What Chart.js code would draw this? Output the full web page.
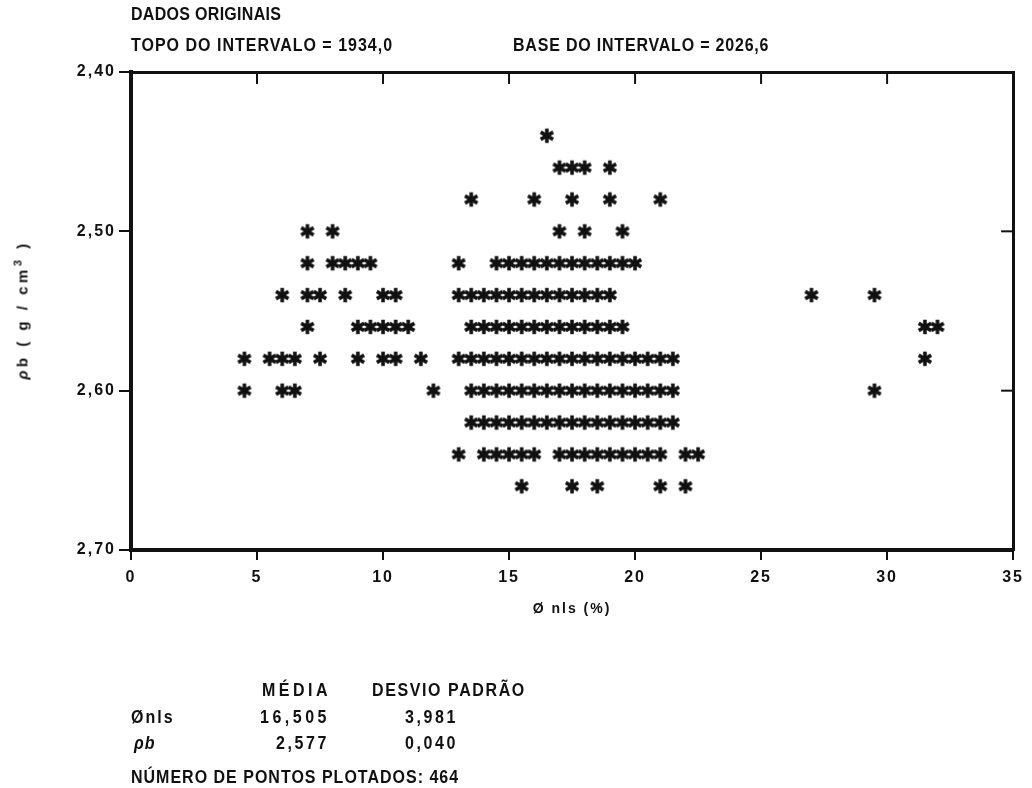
<!DOCTYPE html>
<html>
<head>
<meta charset="utf-8">
<script src="https://cdn.jsdelivr.net/npm/chart.js@4.4.1/dist/chart.umd.min.js"></script>
<style>
  html, body { margin: 0; padding: 0; background: #fff; }
  #wrap { position: relative; width: 1032px; height: 788px; }
  canvas { position: absolute; left: 0; top: 0; }
  .t { position: absolute; font-family: "Liberation Sans", Arial, sans-serif; font-weight: bold;
       font-size: 16px; line-height: 16px; color: #111; white-space: nowrap;
       transform: scaleY(1.15); transform-origin: 0 50%; }
  #ytitle { position: absolute; left: 22px; top: 310px; font-family: "Liberation Sans", Arial, sans-serif;
       font-weight: bold; font-size: 15px; letter-spacing: 3.5px; color: #111; white-space: nowrap;
       transform: translate(-50%, -50%) rotate(-90deg); }
  #ytitle sup { font-size: 11px; vertical-align: 6px; line-height: 0; }
</style>
</head>
<body>
<div id="wrap">
  <canvas id="chart" width="1032" height="788"></canvas>
  <div id="ytitle"><i>ρ</i>b ( g / cm<sup>3</sup> )</div>
  <div class="t" style="left:131px; top:6px; letter-spacing:0.3px;">DADOS ORIGINAIS</div>
  <div class="t" style="left:131px; top:37px; letter-spacing:1px;">TOPO DO INTERVALO = 1934,0</div>
  <div class="t" style="left:513px; top:37px; letter-spacing:0.8px;">BASE DO INTERVALO = 2026,6</div>

  <div class="t" style="left:262px; top:682px; letter-spacing:3.5px;">MÉDIA</div>
  <div class="t" style="left:372px; top:682px; letter-spacing:1.6px;">DESVIO PADRÃO</div>
  <div class="t" style="left:131px; top:709px; letter-spacing:2px;">Ønls</div>
  <div class="t" style="left:260px; top:709px; letter-spacing:3.5px;">16,505</div>
  <div class="t" style="left:405px; top:709px; letter-spacing:2.6px;">3,981</div>
  <div class="t" style="left:134px; top:735px; letter-spacing:1px; font-style:italic;">ρb</div>
  <div class="t" style="left:276px; top:735px; letter-spacing:2.6px;">2,577</div>
  <div class="t" style="left:405px; top:735px; letter-spacing:2.6px;">0,040</div>
  <div class="t" style="left:131px; top:769px; letter-spacing:1px;">NÚMERO DE PONTOS PLOTADOS: 464</div>
</div>
<script>
// densidade (rho b) de cada linha de asteriscos
const rhoRows = [2.44, 2.46, 2.48, 2.50, 2.52, 2.54, 2.56, 2.58, 2.60, 2.62, 2.64, 2.66];

// porosidade (phi nls, %) dos asteriscos em cada linha
const phiRows = [
    [16.5],
    [17, 17.5, 18, 19],
    [13.5, 16, 17.5, 19, 21],
    [7, 8, 17, 18, 19.5],
    [7, 8, 8.5, 9, 9.5, 13, 14.5, 15, 15.5, 16, 16.5, 17, 17.5, 18, 18.5, 19, 19.5, 20],
    [6, 7, 7.5, 8.5, 10, 10.5, 13, 13.5, 14, 14.5, 15, 15.5, 16, 16.5, 17, 17.5, 18, 18.5, 19, 27, 29.5],
    [7, 9, 9.5, 10, 10.5, 11, 13.5, 14, 14.5, 15, 15.5, 16, 16.5, 17, 17.5, 18, 18.5, 19, 19.5, 31.5, 32],
    [4.5, 5.5, 6, 6.5, 7.5, 9, 10, 10.5, 11.5, 13, 13.5, 14, 14.5, 15, 15.5, 16, 16.5, 17, 17.5, 18, 18.5, 19, 19.5, 20, 20.5, 21, 21.5, 31.5],
    [4.5, 6, 6.5, 12, 13.5, 14, 14.5, 15, 15.5, 16, 16.5, 17, 17.5, 18, 18.5, 19, 19.5, 20, 20.5, 21, 21.5, 29.5],
    [13.5, 14, 14.5, 15, 15.5, 16, 16.5, 17, 17.5, 18, 18.5, 19, 19.5, 20, 20.5, 21, 21.5],
    [13, 14, 14.5, 15, 15.5, 16, 17, 17.5, 18, 18.5, 19, 19.5, 20, 20.5, 21, 22, 22.5],
    [15.5, 17.5, 18.5, 21, 22]
];

const xTicks = [0, 5, 10, 15, 20, 25, 30, 35];
const yTicks = [2.40, 2.50, 2.60, 2.70];

const points = [];
rhoRows.forEach((rho, i) => {
    phiRows[i].forEach(phi => points.push({ x: phi, y: rho }));
});

// asterisco de 6 bracos, como o da plotadora
function makeStar() {
    const c = document.createElement('canvas');
    c.width = 18; c.height = 18;
    const g = c.getContext('2d');
    g.strokeStyle = '#111';
    g.lineWidth = 3.6;
    [90, 30, 150].forEach(a => {
        const r = a * Math.PI / 180;
        const dx = Math.cos(r) * 7.2, dy = Math.sin(r) * 7.2;
        g.beginPath();
        g.moveTo(9 - dx, 9 - dy);
        g.lineTo(9 + dx, 9 + dy);
        g.stroke();
    });
    return c;
}
const star = makeStar();

// letras espacadas como na plotadora
const spacing = {
    id: 'spacing',
    beforeLayout(chart) { chart.ctx.letterSpacing = '2px'; },
    beforeDraw(chart) { chart.ctx.letterSpacing = '2px'; }
};

// marcas internas nos eixos de cima e da direita
const innerTicks = {
    id: 'innerTicks',
    afterDraw(chart) {
        const { ctx, chartArea: a, scales } = chart;
        ctx.save();
        ctx.strokeStyle = '#111';
        ctx.lineWidth = 2;
        xTicks.slice(1, -1).forEach(v => {
            const px = scales.x.getPixelForValue(v);
            ctx.beginPath(); ctx.moveTo(px, a.top); ctx.lineTo(px, a.top + 12); ctx.stroke();
        });
        yTicks.slice(1, -1).forEach(v => {
            const py = scales.y.getPixelForValue(v);
            ctx.beginPath(); ctx.moveTo(a.right, py); ctx.lineTo(a.right - 12, py); ctx.stroke();
        });
        ctx.restore();
    }
};

const fam = '"Liberation Sans", Arial, sans-serif';
const tickFont = { family: fam, weight: 'bold', size: 16 };

new Chart(document.getElementById('chart'), {
    type: 'scatter',
    data: {
        datasets: [{
            data: points,
            pointStyle: star,
            pointRadius: 9,
            pointHoverRadius: 9
        }]
    },
    plugins: [spacing, innerTicks],
    options: {
        responsive: false,
        animation: false,
        events: [],
        layout: { padding: { left: 0, top: 72, right: 17, bottom: 168 } },
        plugins: { legend: { display: false }, tooltip: { enabled: false } },
        scales: {
            x: {
                type: 'linear',
                min: 0, max: 35,
                afterFit: s => { s.height = 70; },
                afterBuildTicks: s => { s.ticks = xTicks.map(v => ({ value: v })); },
                ticks: { color: '#111', font: tickFont, padding: 8, callback: v => String(v) },
                grid: { drawOnChartArea: false, tickLength: 10, color: '#111', lineWidth: 2 },
                border: { color: '#111', width: 4 },
                title: {
                    display: true, text: 'Ø nls (%)', color: '#111',
                    font: { family: fam, weight: 'bold', size: 14 },
                    padding: { top: 10, bottom: 2 }
                }
            },
            y: {
                type: 'linear',
                min: 2.40, max: 2.70,
                reverse: true,
                afterFit: s => { s.width = 131; },
                afterBuildTicks: s => { s.ticks = yTicks.map(v => ({ value: v })); },
                ticks: { color: '#111', font: tickFont, padding: 3, callback: v => v.toFixed(2).replace('.', ',') },
                grid: { drawOnChartArea: false, tickLength: 12, color: '#111', lineWidth: 2 },
                border: { color: '#111', width: 4 }
            },
            x2: {
                type: 'linear', position: 'top', min: 0, max: 35,
                afterFit: s => { s.height = 0; },
                ticks: { display: false },
                grid: { display: false, drawTicks: false },
                border: { color: '#111', width: 3 }
            },
            y2: {
                type: 'linear', position: 'right', min: 2.40, max: 2.70, reverse: true,
                afterFit: s => { s.width = 0; },
                ticks: { display: false },
                grid: { display: false, drawTicks: false },
                border: { color: '#111', width: 3 }
            }
        }
    }
});
</script>
</body>
</html>
